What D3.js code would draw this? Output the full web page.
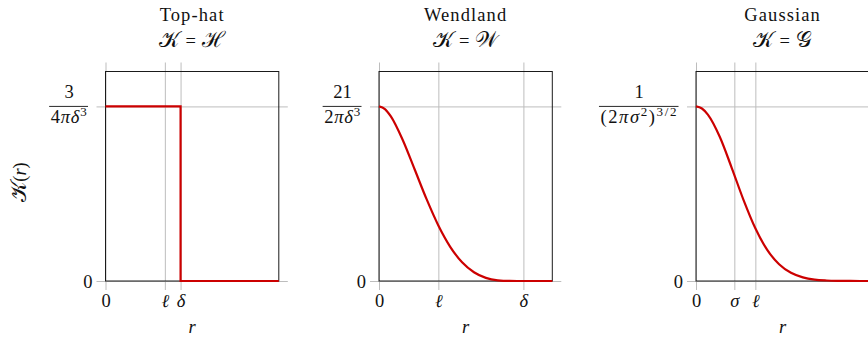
<!DOCTYPE html>
<html>
<head>
<meta charset="utf-8">
<script src="https://cdn.jsdelivr.net/npm/d3@7"></script>
<style>
  html, body { margin: 0; padding: 0; background: #fff; }
  svg { display: block; }
  text { font-family: "Liberation Serif", "DejaVu Serif", serif; fill: #111; }
  .grid line { stroke: #bdbdbd; stroke-width: 1; }
  .grid path { display: none; }
</style>
</head>
<body>
<svg id="chart" width="868" height="340"></svg>
<script>
// Kernel profiles K(r), normalised to their peak value, with r in units of ℓ.
const panelTitles = ["Top-hat", "Wendland", "Gaussian"];
const kernelSymbols = ["ℋ", "𝒲", "𝒢"];
const rMax = 2.92;

const topHatR = [0, 1.265, 2.92];
const topHatK = [1, 0, 0];

const wendlandR = [0, 0.1, 0.2, 0.4, 0.6, 0.8, 1.0, 1.2, 1.4, 1.6, 1.8, 2.0, 2.2, 2.433, 2.92];
const wendlandK = [1, 0.985, 0.943, 0.808, 0.640, 0.470, 0.318, 0.196, 0.107, 0.050, 0.018, 0.004, 0.0004, 0, 0];

const gaussR = [0, 0.1, 0.2, 0.4, 0.6, 0.8, 1.0, 1.2, 1.4, 1.6, 1.8, 2.0, 2.2, 2.4, 2.6, 2.92];
const gaussK = [1, 0.988, 0.953, 0.826, 0.650, 0.465, 0.302, 0.178, 0.096, 0.047, 0.021, 0.008, 0.003, 0.001, 0.0003, 0];

// tick positions (in ℓ) and their symbols
const xTickValues = [[0, 1, 1.265], [0, 1, 2.433], [0, 0.646, 1]];
const xTickLabels = [["0", "ℓ", "δ"], ["0", "ℓ", "δ"], ["0", "σ", "ℓ"]];
const yTickValues = [0, 1];

// peak height labels, written as fractions
const peakNumerators = ["3", "21", "1"];
const peakDenominators = [
  [["4", null], ["π", "i"], ["δ", "i"], ["3", "sup"]],
  [["2", null], ["π", "i"], ["δ", "i"], ["3", "sup"]],
  [["(2", null], ["π", "i"], ["σ", "i"], ["2", "sup"], [")", null], ["3/2", "sup"]]
];
const denominatorSpacing = [0.8, 0.8, 1.6];

const series = [
  { r: topHatR, k: topHatK, curve: d3.curveStepAfter },
  { r: wendlandR, k: wendlandK, curve: d3.curveMonotoneX },
  { r: gaussR, k: gaussK, curve: d3.curveMonotoneX }
];

const svg = d3.select("#chart");
const panelLeft = [105.5, 379, 696];
const boxW = 173.3, boxTop = 71.5, boxBottom = 281;
const ext = 9;
const fs = 18.5;
const scriptFs = 22;

panelTitles.forEach((title, i) => {
  const g = svg.append("g").attr("transform", `translate(${panelLeft[i]},0)`);
  const x = d3.scaleLinear().domain([0, rMax]).range([0, boxW]);
  const y = d3.scaleLinear().domain([0, 1.2]).range([boxBottom, boxTop]);

  // vertical grid + x tick labels
  const xa = g.append("g").attr("class", "grid")
    .attr("transform", `translate(0,${boxBottom + ext})`)
    .call(d3.axisBottom(x).tickValues(xTickValues[i])
      .tickSize(-(boxBottom - boxTop + 2 * ext))
      .tickFormat((d, j) => xTickLabels[i][j]));
  xa.selectAll("text").attr("y", 17).attr("dy", 0)
    .style("font-size", fs + "px")
    .style("font-style", (d, j) => xTickLabels[i][j] === "0" ? "normal" : "italic");

  // horizontal grid + y tick labels
  const ya = g.append("g").attr("class", "grid")
    .attr("transform", `translate(${-ext},0)`)
    .call(d3.axisLeft(y).tickValues(yTickValues)
      .tickSize(-(boxW + 2 * ext))
      .tickFormat(d => d === 0 ? "0" : ""));
  ya.selectAll("text").attr("x", -4).attr("dy", "0.33em").style("font-size", fs + "px");

  // plot frame
  g.append("rect").attr("x", 0).attr("y", boxTop)
    .attr("width", boxW).attr("height", boxBottom - boxTop)
    .attr("fill", "none").attr("stroke", "#1a1a1a").attr("stroke-width", 1);

  // kernel curve
  const s = series[i];
  const line = d3.line().x(d => x(d[0])).y(d => y(d[1])).curve(s.curve);
  g.append("path").datum(d3.zip(s.r, s.k))
    .attr("d", line)
    .attr("fill", "none").attr("stroke", "#cc0000").attr("stroke-width", 2.2)
    .attr("stroke-linejoin", "miter");

  // titles
  const cx = boxW / 2;
  g.append("text").attr("x", cx).attr("y", 21).attr("text-anchor", "middle")
    .style("font-size", fs + "px").style("letter-spacing", "1.1px").text(title);
  const t2 = g.append("text").attr("x", cx).attr("y", 47).attr("text-anchor", "middle")
    .style("font-size", fs + "px");
  t2.append("tspan").style("font-size", scriptFs + "px").text("𝒦");
  t2.append("tspan").attr("dx", 6).text("=");
  t2.append("tspan").attr("dx", 6).style("font-size", scriptFs + "px").text(kernelSymbols[i]);

  // x axis label
  g.append("text").attr("x", cx).attr("y", 333).attr("text-anchor", "middle")
    .style("font-size", fs + "px").style("font-style", "italic").text("r");

  // peak value as a fraction, right edge 18px left of the frame
  const fracRight = -18;
  const yPeak = y(1);
  const den = g.append("text").attr("y", yPeak + 17).attr("x", 0)
    .style("font-size", fs + "px").style("letter-spacing", denominatorSpacing[i] + "px");
  peakDenominators[i].forEach(([txt, kind], j, arr) => {
    const ts = den.append("tspan").text(txt);
    if (kind === "i") ts.style("font-style", "italic");
    if (kind === "sup") ts.attr("dy", j > 0 && arr[j - 1][1] === "sup" ? 0 : -7).style("font-size", "13px");
    else if (j > 0 && arr[j - 1][1] === "sup") ts.attr("dy", 7);
  });
  const w = den.node().getComputedTextLength();
  den.attr("x", fracRight - w);
  g.append("line").attr("x1", fracRight - w - 1.5).attr("x2", fracRight + 0.5)
    .attr("y1", yPeak).attr("y2", yPeak)
    .attr("stroke", "#111").attr("stroke-width", 0.9);
  g.append("text").attr("x", fracRight - w / 2).attr("y", yPeak - 8)
    .attr("text-anchor", "middle").style("font-size", fs + "px")
    .text(peakNumerators[i]);
});

// shared y axis label
const yl = svg.append("text")
  .attr("transform", "translate(26,182) rotate(-90)")
  .attr("text-anchor", "middle").style("font-size", fs + "px");
yl.append("tspan").style("font-size", scriptFs + "px").text("𝒦");
yl.append("tspan").text("(");
yl.append("tspan").style("font-style", "italic").text("r");
yl.append("tspan").text(")");
</script>
</body>
</html>
